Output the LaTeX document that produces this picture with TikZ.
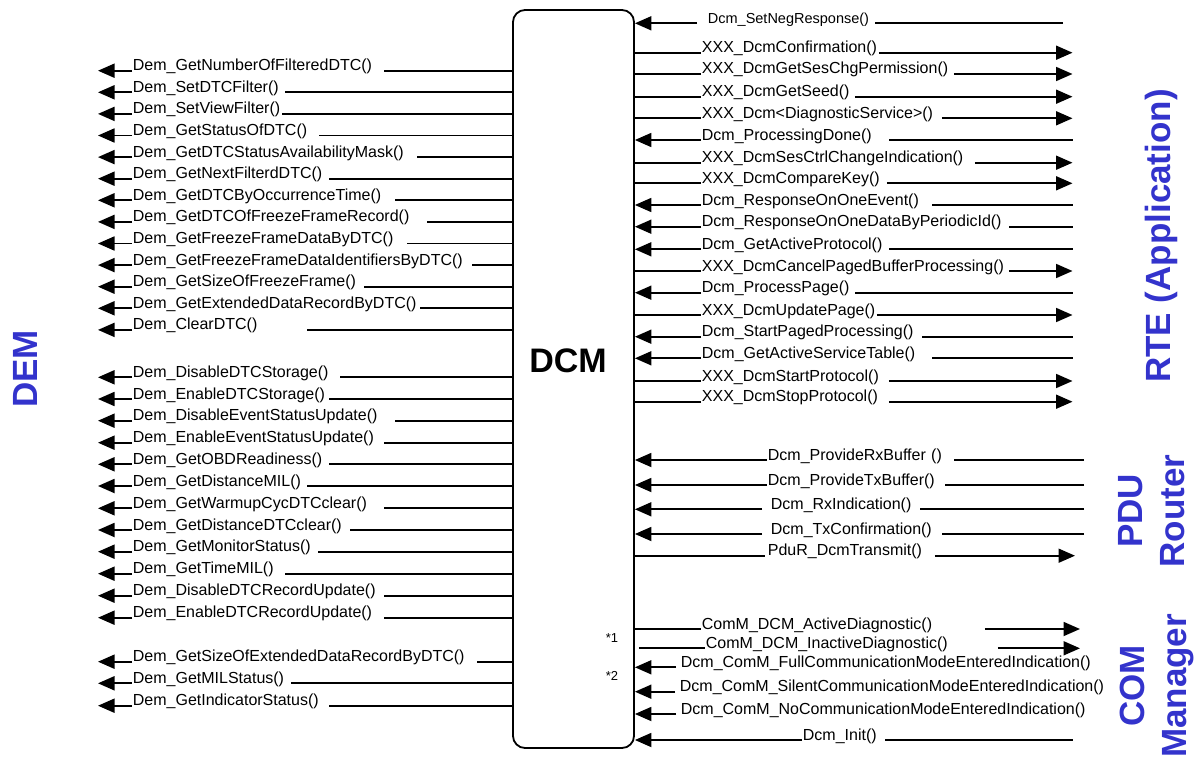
\documentclass[tikz,border=0pt]{standalone}
\usepackage{fontspec}
\setmainfont{Liberation Sans}
\usetikzlibrary{arrows.meta}
\definecolor{grpblue}{RGB}{51,51,204}

\begin{document}
\begin{tikzpicture}[x=1pt, y=-1pt, line width=1.8pt,
    fn/.style = {anchor=base west, inner sep=0pt, font=\fontsize{16}{19}\selectfont},
    fnw/.style = {fn, text width=#1, align=left},
    call/.style = {-{Triangle[length=16.5pt,width=14pt]}},
    grp/.style = {text=grpblue, font=\bfseries\fontsize{35}{42}\selectfont, align=center, rotate=90}]
    \useasboundingbox (0,0) rectangle (1203,760);

    % DCM block
    \node[draw, rounded corners=12pt, minimum width=121pt, minimum height=738pt] (dcm) at (573.5,379) {};
    \node[font=\bfseries\fontsize{34}{40}\selectfont] (dcmlbl) at (568,361) {DCM};
    \node[font=\fontsize{13}{15}\selectfont] (n1) at (612,638) {*1};
    \node[font=\fontsize{13}{15}\selectfont] (n2) at (612,676) {*2};

    % ends of the lines
    \coordinate (demtip) at (98,0);
    \coordinate (rteend) at (1072.5,0);
    \coordinate (negend) at (1063,0);
    \coordinate (pduend) at (1084,0);
    \coordinate (pdutip) at (1075,0);
    \coordinate (comtip) at (1080,0);

    % module names
    \node[grp] (dem) at (25,369) {DEM};
    \node[grp] (rte) at (1161,236) {RTE (Application)};
    \node[grp] (pdu) at (1152,511) {PDU\\Router};
    \node[grp] (com) at (1157,686) {COM\\Manager};

    % DEM interface
    \node[fnw=249.7pt] (d1) at (132,70.7) {Dem\_GetNumberOfFilteredDTC()};
    \draw[call] (dcm.west |- d1.base) -- (d1.base east) (d1.base west) -- (d1.base west -| demtip);
    \node[fnw=151.3pt] (d2) at (132,92.3) {Dem\_SetDTCFilter()};
    \draw[call] (dcm.west |- d2.base) -- (d2.base east) (d2.base west) -- (d2.base west -| demtip);
    \node[fnw=148pt] (d3) at (132,113.9) {Dem\_SetViewFilter()};
    \draw[call] (dcm.west |- d3.base) -- (d3.base east) (d3.base west) -- (d3.base west -| demtip);
    \node[fnw=184.7pt] (d4) at (132,135.5) {Dem\_GetStatusOfDTC()};
    \draw[call] (dcm.west |- d4.base) -- (d4.base east) (d4.base west) -- (d4.base west -| demtip);
    \node[fnw=283pt] (d5) at (132,157.1) {Dem\_GetDTCStatusAvailabilityMask()};
    \draw[call] (dcm.west |- d5.base) -- (d5.base east) (d5.base west) -- (d5.base west -| demtip);
    \node[fnw=194.7pt] (d6) at (132,178.7) {Dem\_GetNextFilterdDTC()};
    \draw[call] (dcm.west |- d6.base) -- (d6.base east) (d6.base west) -- (d6.base west -| demtip);
    \node[fnw=261.3pt] (d7) at (132,200.3) {Dem\_GetDTCByOccurrenceTime()};
    \draw[call] (dcm.west |- d7.base) -- (d7.base east) (d7.base west) -- (d7.base west -| demtip);
    \node[fnw=293pt] (d8) at (132,221.9) {Dem\_GetDTCOfFreezeFrameRecord()};
    \draw[call] (dcm.west |- d8.base) -- (d8.base east) (d8.base west) -- (d8.base west -| demtip);
    \node[fnw=273pt] (d9) at (132,243.5) {Dem\_GetFreezeFrameDataByDTC()};
    \draw[call] (dcm.west |- d9.base) -- (d9.base east) (d9.base west) -- (d9.base west -| demtip);
    \node[fnw=338pt] (d10) at (132,265.1) {Dem\_GetFreezeFrameDataIdentifiersByDTC()};
    \draw[call] (dcm.west |- d10.base) -- (d10.base east) (d10.base west) -- (d10.base west -| demtip);
    \node[fnw=229.7pt] (d11) at (132,286.7) {Dem\_GetSizeOfFreezeFrame()};
    \draw[call] (dcm.west |- d11.base) -- (d11.base east) (d11.base west) -- (d11.base west -| demtip);
    \node[fnw=286.3pt] (d12) at (132,308.3) {Dem\_GetExtendedDataRecordByDTC()};
    \draw[call] (dcm.west |- d12.base) -- (d12.base east) (d12.base west) -- (d12.base west -| demtip);
    \node[fnw=173pt] (d13) at (132,329.9) {Dem\_ClearDTC()};
    \draw[call] (dcm.west |- d13.base) -- (d13.base east) (d13.base west) -- (d13.base west -| demtip);

    \node[fnw=206.3pt] (d14) at (132,377.3) {Dem\_DisableDTCStorage()};
    \draw[call] (dcm.west |- d14.base) -- (d14.base east) (d14.base west) -- (d14.base west -| demtip);
    \node[fnw=194.7pt] (d15) at (132,399) {Dem\_EnableDTCStorage()};
    \draw[call] (dcm.west |- d15.base) -- (d15.base east) (d15.base west) -- (d15.base west -| demtip);
    \node[fnw=261.3pt] (d16) at (132,420.7) {Dem\_DisableEventStatusUpdate()};
    \draw[call] (dcm.west |- d16.base) -- (d16.base east) (d16.base west) -- (d16.base west -| demtip);
    \node[fnw=249.7pt] (d17) at (132,442.7) {Dem\_EnableEventStatusUpdate()};
    \draw[call] (dcm.west |- d17.base) -- (d17.base east) (d17.base west) -- (d17.base west -| demtip);
    \node[fnw=194.7pt] (d18) at (132,464.3) {Dem\_GetOBDReadiness()};
    \draw[call] (dcm.west |- d18.base) -- (d18.base east) (d18.base west) -- (d18.base west -| demtip);
    \node[fnw=173pt] (d19) at (132,486) {Dem\_GetDistanceMIL()};
    \draw[call] (dcm.west |- d19.base) -- (d19.base east) (d19.base west) -- (d19.base west -| demtip);
    \node[fnw=249.7pt] (d20) at (132,508.3) {Dem\_GetWarmupCycDTCclear()};
    \draw[call] (dcm.west |- d20.base) -- (d20.base east) (d20.base west) -- (d20.base west -| demtip);
    \node[fnw=216.3pt] (d21) at (132,530) {Dem\_GetDistanceDTCclear()};
    \draw[call] (dcm.west |- d21.base) -- (d21.base east) (d21.base west) -- (d21.base west -| demtip);
    \node[fnw=184pt] (d22) at (132,551.7) {Dem\_GetMonitorStatus()};
    \draw[call] (dcm.west |- d22.base) -- (d22.base east) (d22.base west) -- (d22.base west -| demtip);
    \node[fnw=151.3pt] (d23) at (132,573.7) {Dem\_GetTimeMIL()};
    \draw[call] (dcm.west |- d23.base) -- (d23.base east) (d23.base west) -- (d23.base west -| demtip);
    \node[fnw=249.7pt] (d24) at (132,595.7) {Dem\_DisableDTCRecordUpdate()};
    \draw[call] (dcm.west |- d24.base) -- (d24.base east) (d24.base west) -- (d24.base west -| demtip);
    \node[fnw=249.7pt] (d25) at (132,617.7) {Dem\_EnableDTCRecordUpdate()};
    \draw[call] (dcm.west |- d25.base) -- (d25.base east) (d25.base west) -- (d25.base west -| demtip);

    \node[fnw=343pt] (d26) at (132,661.7) {Dem\_GetSizeOfExtendedDataRecordByDTC()};
    \draw[call] (dcm.west |- d26.base) -- (d26.base east) (d26.base west) -- (d26.base west -| demtip);
    \node[fnw=157.3pt] (d27) at (132,683.3) {Dem\_GetMILStatus()};
    \draw[call] (dcm.west |- d27.base) -- (d27.base east) (d27.base west) -- (d27.base west -| demtip);
    \node[fnw=194.7pt] (d28) at (132,705.7) {Dem\_GetIndicatorStatus()};
    \draw[call] (dcm.west |- d28.base) -- (d28.base east) (d28.base west) -- (d28.base west -| demtip);

    % RTE interface
    \node[fnw=176pt, font=\fontsize{14.5}{17}\selectfont] (r1) at (697,23.3) {\hspace{10pt}Dcm\_SetNegResponse()};
    \draw[call] (r1.base east -| negend) -- (r1.base east) (r1.base west) -- (dcm.east |- r1.base);
    \node[fnw=176pt] (r2) at (701,52.7) {XXX\_DcmConfirmation()};
    \draw[call] (dcm.east |- r2.base) -- (r2.base west) (r2.base east) -- (r2.base east -| rteend);
    \node[fnw=251pt] (r3) at (701,74) {XXX\_DcmGetSesChgPermission()};
    \draw[call] (dcm.east |- r3.base) -- (r3.base west) (r3.base east) -- (r3.base east -| rteend);
    \node[fnw=152pt] (r4) at (701,96.7) {XXX\_DcmGetSeed()};
    \draw[call] (dcm.east |- r4.base) -- (r4.base west) (r4.base east) -- (r4.base east -| rteend);
    \node[fnw=239pt] (r5) at (701,118.3) {XXX\_Dcm<DiagnosticService>()};
    \draw[call] (dcm.east |- r5.base) -- (r5.base west) (r5.base east) -- (r5.base east -| rteend);
    \node[fnw=186pt] (r6) at (701,140) {Dcm\_ProcessingDone()};
    \draw[call] (r6.base east -| rteend) -- (r6.base east) (r6.base west) -- (dcm.east |- r6.base);
    \node[fnw=272pt] (r7) at (701,162.7) {XXX\_DcmSesCtrlChangeIndication()};
    \draw[call] (dcm.east |- r7.base) -- (r7.base west) (r7.base east) -- (r7.base east -| rteend);
    \node[fnw=184pt] (r8) at (701,183.3) {XXX\_DcmCompareKey()};
    \draw[call] (dcm.east |- r8.base) -- (r8.base west) (r8.base east) -- (r8.base east -| rteend);
    \node[fnw=229pt] (r9) at (701,205) {Dcm\_ResponseOnOneEvent()};
    \draw[call] (r9.base east -| rteend) -- (r9.base east) (r9.base west) -- (dcm.east |- r9.base);
    \node[fnw=306pt] (r10) at (701,226.7) {Dcm\_ResponseOnOneDataByPeriodicId()};
    \draw[call] (r10.base east -| rteend) -- (r10.base east) (r10.base west) -- (dcm.east |- r10.base);
    \node[fnw=186pt] (r11) at (701,249.3) {Dcm\_GetActiveProtocol()};
    \draw[call] (r11.base east -| rteend) -- (r11.base east) (r11.base west) -- (dcm.east |- r11.base);
    \node[fnw=306pt] (r12) at (701,271) {XXX\_DcmCancelPagedBufferProcessing()};
    \draw[call] (dcm.east |- r12.base) -- (r12.base west) (r12.base east) -- (r12.base east -| rteend);
    \node[fnw=152pt] (r13) at (701,292.7) {Dcm\_ProcessPage()};
    \draw[call] (r13.base east -| rteend) -- (r13.base east) (r13.base west) -- (dcm.east |- r13.base);
    \node[fnw=174pt] (r14) at (701,315) {XXX\_DcmUpdatePage()};
    \draw[call] (dcm.east |- r14.base) -- (r14.base west) (r14.base east) -- (r14.base east -| rteend);
    \node[fnw=219pt] (r15) at (701,336.7) {Dcm\_StartPagedProcessing()};
    \draw[call] (r15.base east -| rteend) -- (r15.base east) (r15.base west) -- (dcm.east |- r15.base);
    \node[fnw=229pt] (r16) at (701,358.3) {Dcm\_GetActiveServiceTable()};
    \draw[call] (r16.base east -| rteend) -- (r16.base east) (r16.base west) -- (dcm.east |- r16.base);
    \node[fnw=186pt] (r17) at (701,381) {XXX\_DcmStartProtocol()};
    \draw[call] (dcm.east |- r17.base) -- (r17.base west) (r17.base east) -- (r17.base east -| rteend);
    \node[fnw=186pt] (r18) at (701,401.7) {XXX\_DcmStopProtocol()};
    \draw[call] (dcm.east |- r18.base) -- (r18.base west) (r18.base east) -- (r18.base east -| rteend);

    % PDU Router interface
    \node[fnw=185pt] (p1) at (767,460) {Dcm\_ProvideRxBuffer ()};
    \draw[call] (p1.base east -| pduend) -- (p1.base east) (p1.base west) -- (dcm.east |- p1.base);
    \node[fnw=176pt] (p2) at (767,485) {Dcm\_ProvideTxBuffer()};
    \draw[call] (p2.base east -| pduend) -- (p2.base east) (p2.base west) -- (dcm.east |- p2.base);
    \node[fnw=156pt] (p3) at (762,509.3) {\hspace{8pt}Dcm\_RxIndication()};
    \draw[call] (p3.base east -| pduend) -- (p3.base east) (p3.base west) -- (dcm.east |- p3.base);
    \node[fnw=178pt] (p4) at (762,534) {\hspace{8pt}Dcm\_TxConfirmation()};
    \draw[call] (p4.base east -| pduend) -- (p4.base east) (p4.base west) -- (dcm.east |- p4.base);
    \node[fnw=168pt] (p5) at (765,555.7) {\hspace{2pt}PduR\_DcmTransmit()};
    \draw[call] (dcm.east |- p5.base) -- (p5.base west) (p5.base east) -- (p5.base east -| pdutip);

    % COM Manager interface
    \node[fnw=282pt] (c1) at (701,629) {ComM\_DCM\_ActiveDiagnostic()};
    \draw[call] (dcm.east |- c1.base) -- (c1.base west) (c1.base east) -- (c1.base east -| comtip);
    \node[fnw=291pt] (c2) at (705,648.3) {ComM\_DCM\_InactiveDiagnostic()};
    \draw[call] ([xshift=4pt]dcm.east |- c2.base) -- (c2.base west) (c2.base east) -- (c2.base east -| comtip);
    \node[fn] (c3) at (676,667.3) {\hspace{4pt}Dcm\_ComM\_FullCommunicationModeEnteredIndication()};
    \draw[call] (c3.base west) -- (dcm.east |- c3.base);
    \node[fn] (c4) at (675,691.7) {\hspace{4pt}Dcm\_ComM\_SilentCommunicationModeEnteredIndication()};
    \draw[call] (c4.base west) -- (dcm.east |- c4.base);
    \node[fn] (c5) at (676,714) {\hspace{4pt}Dcm\_ComM\_NoCommunicationModeEnteredIndication()};
    \draw[call] (c5.base west) -- (dcm.east |- c5.base);
    \node[fnw=81pt] (c6) at (802,740) {Dcm\_Init()};
    \draw[call] (c6.base east -| rteend) -- (c6.base east) (c6.base west) -- (dcm.east |- c6.base);
\end{tikzpicture}
\end{document}
